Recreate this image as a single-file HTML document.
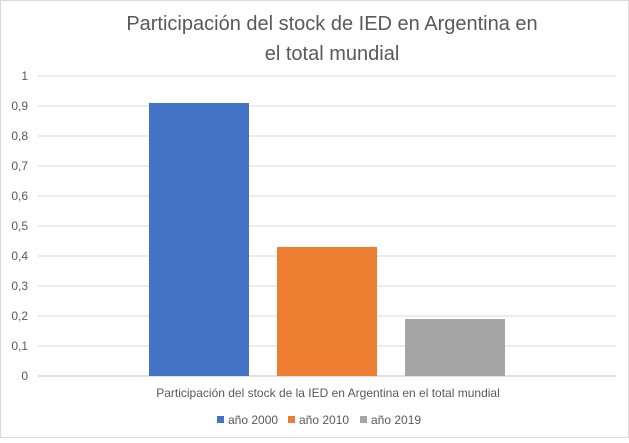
<!DOCTYPE html>
<html><head><meta charset="utf-8"><style>
body{margin:0;background:#fff}
svg text{font-family:"Liberation Sans",sans-serif}
</style></head><body>
<svg id="c" width="629" height="438" xmlns="http://www.w3.org/2000/svg">
<rect x="0.5" y="0.5" width="628" height="437" fill="#fff" stroke="#d9d9d9"/>
<text x="332" y="30" text-anchor="middle" font-size="20" fill="#595959">Participación del stock de IED en Argentina en</text>
<text x="332" y="60" text-anchor="middle" font-size="20" fill="#595959">el total mundial</text>
<g id="grid"></g><g id="bars"></g>
<text x="328" y="397" text-anchor="middle" font-size="12" fill="#595959">Participación del stock de la IED en Argentina en el total mundial</text>
<g id="legend"></g>
</svg>
<script>
const series=["año 2000","año 2010","año 2019"];
const values=[0.91,0.43,0.19];
const colors=["#4472c4","#ed7d31","#a5a5a5"];
const ticks=["0","0,1","0,2","0,3","0,4","0,5","0,6","0,7","0,8","0,9","1"];
const NS="http://www.w3.org/2000/svg";
const y0=376,y1=76,x0=38,x1=616;
const y=v=>y0-(y0-y1)*v;
function mk(t,a,p){const e=document.createElementNS(NS,t);for(const k in a)e.setAttribute(k,a[k]);p.appendChild(e);return e;}
const g=document.getElementById('grid');
ticks.forEach((t,i)=>{const v=i/10;
 const l=mk('line',{x1:x0,x2:x1,y1:y(v),y2:y(v),stroke:i?'#d9d9d9':'#bfbfbf','stroke-width':1},g);
 
 
 const tx=mk('text',{x:28,y:y(v)+4,'text-anchor':'end','font-size':12,fill:'#595959'},g);tx.textContent=t;
 
 
});
const b=document.getElementById('bars');
const bw=100,start=149,step=128;
values.forEach((v,i)=>{
 const r=mk('rect',{x:start+i*step,y:y(v),width:bw,height:y0-y(v),fill:colors[i]},b);
 
 
});
const lg=document.getElementById('legend');
const lx=[217,288,360];
series.forEach((s,i)=>{
 const r=mk('rect',{x:lx[i],y:416,width:7,height:7,fill:colors[i]},lg);
 
 
 const t=mk('text',{x:lx[i]+11,y:424,'font-size':12,fill:'#595959'},lg);t.textContent=s;
 
 
});
</script>
</body></html>
